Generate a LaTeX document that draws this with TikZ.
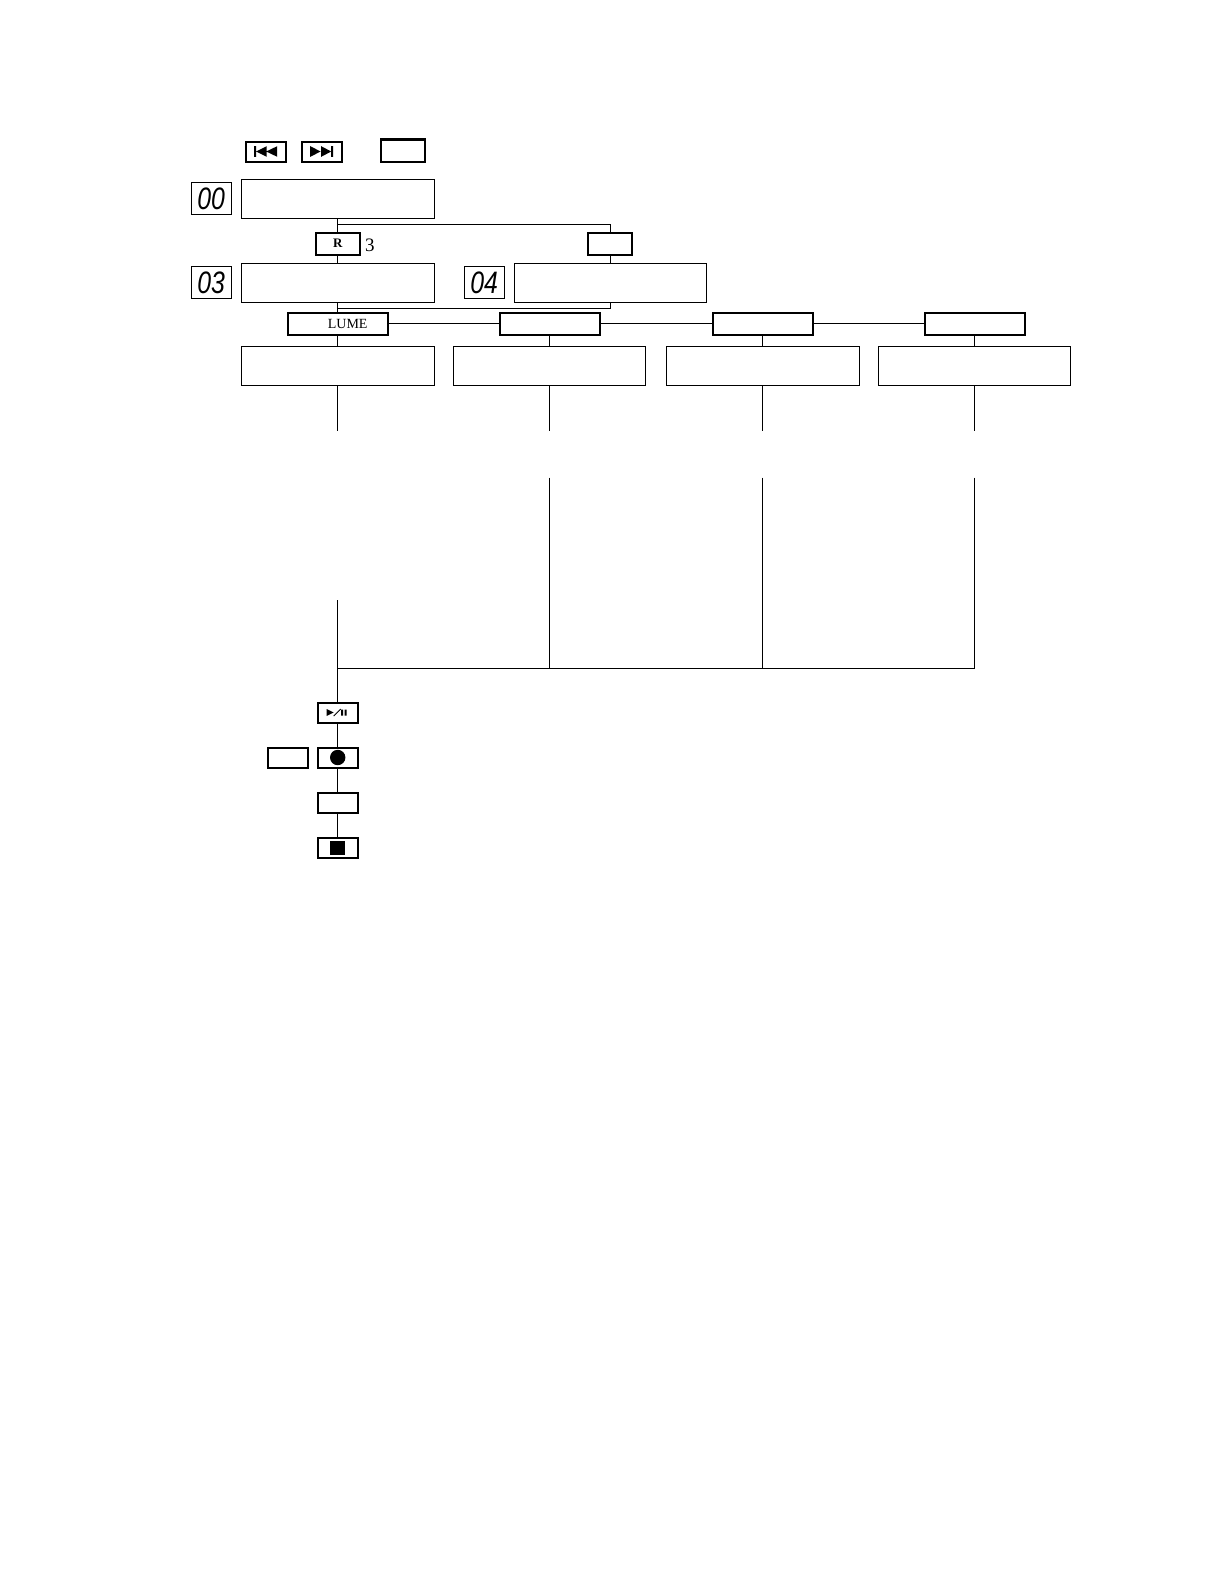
\documentclass[tikz,border=0pt]{standalone}
\usepackage{fontspec}
\setmainfont{Liberation Serif}
\newfontfamily\lcdfont[FakeStretch=0.8]{Liberation Sans}
\usetikzlibrary{positioning}
\tikzset{
  panel/.style={rectangle, draw=black, minimum width=96.5pt, minimum height=19.5pt,
    inner sep=0pt, outer sep=0pt, line width=0.5pt},
  lcdbox/.style={rectangle, draw=black, minimum width=20pt, minimum height=16pt,
    inner sep=0pt, outer sep=0pt, line width=0.5pt, font=\lcdfont\itshape\fontsize{15.5}{16}\selectfont},
  keybtn/.style={rectangle, draw=black, minimum width=20pt, minimum height=10pt,
    inner sep=0pt, outer sep=0pt, line width=1pt},
  midbtn/.style={keybtn, minimum width=22pt, minimum height=11pt},
  widebtn/.style={keybtn, minimum width=50pt, minimum height=11pt},
  line/.style={line width=0.5pt, color=black}
}
\begin{document}
\begin{tikzpicture}[x=0.5pt, y=-0.5pt]
  \useasboundingbox (0,0) rectangle (1224,1584);

  % Top rows
  \node[panel] (mainbox) at (337.7,198.5) {};
  \node[lcdbox, left=5pt of mainbox] (lcdA) {00};
  \node[keybtn, above right=8.75pt and 2.25pt of mainbox.north west] (prevbtn) {};
  \node[keybtn, right=8pt of prevbtn] (nextbtn) {};
  \node[midbtn, right=19.5pt of nextbtn.south east, anchor=south west] (topbtn) {};
  \node[midbtn, below=7.25pt of mainbox, font=\bfseries\fontsize{6.5}{7}\selectfont] (rbtn) {R};
  \node[right=0.5pt of rbtn, yshift=-1pt, inner sep=2pt, font=\fontsize{9.5}{10}\selectfont] (rcount) {3};
  \node[panel, below=4.25pt of rbtn] (recallbox) {};
  \node[lcdbox, left=5pt of recallbox] (lcdB) {03};
  \node[lcdbox, right=15pt of recallbox] (lcdC) {04};
  \node[panel, right=5pt of lcdC, minimum width=96pt] (sidebox) {};
  \node[midbtn, above=4pt of sidebox] (sidebtn) {};

  % Mode row
  \node[widebtn, below=5.25pt of recallbox, font=\fontsize{7}{8}\selectfont] (lume) {\hspace*{10pt}LUME};
  \node[widebtn, right=56pt of lume] (modeB) {};
  \node[widebtn, right=56.5pt of modeB] (modeC) {};
  \node[widebtn, right=56pt of modeC] (modeD) {};
  \node[panel, below=6pt of lume] (boxA) {};
  \node[panel, below=6pt of modeB, minimum width=96pt] (boxB) {};
  \node[panel, below=6pt of modeC] (boxC) {};
  \node[panel, below=6pt of modeD, minimum width=96pt] (boxD) {};

  % Bottom stack
  \node[keybtn, below=158.5pt of boxA] (playbtn) {};
  \node[keybtn, below=12.5pt of playbtn] (recbtn) {};
  \node[keybtn, left=5pt of recbtn] (leftbtn) {};
  \node[keybtn, below=12.5pt of recbtn] (blankbtn) {};
  \node[keybtn, below=12.5pt of blankbtn] (stopbtn) {};

  % Free ends
  \coordinate[below=3pt of mainbox] (forkA);
  \coordinate[below=3.25pt of recallbox] (forkB);
  \coordinate (cutlow) at (0,430.5);
  \coordinate (cuthigh) at (0,477.5);
  \coordinate (cutfirst) at (0,600);
  \coordinate (joinlvl) at (0,668);

  % Paths
  \draw[line] (mainbox) -- (rbtn);
  \draw[line] (rbtn) -- (recallbox);
  \draw[line] (forkA) -| (sidebtn);
  \draw[line] (sidebtn) -- (sidebox);
  \draw[line] (recallbox) -- (lume);
  \draw[line] (forkB) -| (sidebox);
  \draw[line] (lume) -- (modeB);
  \draw[line] (modeB) -- (modeC);
  \draw[line] (modeC) -- (modeD);
  \draw[line] (lume) -- (boxA);
  \draw[line] (modeB) -- (boxB);
  \draw[line] (modeC) -- (boxC);
  \draw[line] (modeD) -- (boxD);
  \draw[line] (boxA) -- (boxA |- cutlow);
  \draw[line] (boxB) -- (boxB |- cutlow);
  \draw[line] (boxC) -- (boxC |- cutlow);
  \draw[line] (boxD) -- (boxD |- cutlow);
  \draw[line] (boxB |- cuthigh) -- (boxB |- joinlvl);
  \draw[line] (boxC |- cuthigh) -- (boxC |- joinlvl);
  \draw[line] (boxD |- cuthigh) -- (boxD |- joinlvl) -- (boxA |- joinlvl);
  \draw[line] (boxA |- cutfirst) -- (playbtn);
  \draw[line] (playbtn) -- (recbtn);
  \draw[line] (recbtn) -- (blankbtn);
  \draw[line] (blankbtn) -- (stopbtn);

  % Key symbols
  \fill[shift={(prevbtn)}] (-11.5,-5.3) rectangle (-9.5,5.3)
    (-9.5,0) -- (1,-5.3) -- (1,5.3) -- cycle
    (0.5,0) -- (11.5,-5.3) -- (11.5,5.3) -- cycle;
  \fill[shift={(nextbtn)}] (-11.5,-5.3) -- (-1,0) -- (-11.5,5.3) -- cycle
    (-0.5,-5.3) -- (9.5,0) -- (-0.5,5.3) -- cycle
    (9.5,-5.3) rectangle (11.5,5.3);
  \fill[shift={(playbtn)}] (-11,-3.5) -- (-4,0) -- (-11,3.5) -- cycle
    (3.5,-3) rectangle (5.5,3) (7,-3) rectangle (9,3);
  \draw[line, shift={(playbtn)}] (-4,3.5) -- (3,-3.5);
  \fill (recbtn) circle[radius=3.85pt];
  \fill[shift={(stopbtn)}] (-7.5,-7) rectangle (7.5,7);
\end{tikzpicture}
\end{document}
